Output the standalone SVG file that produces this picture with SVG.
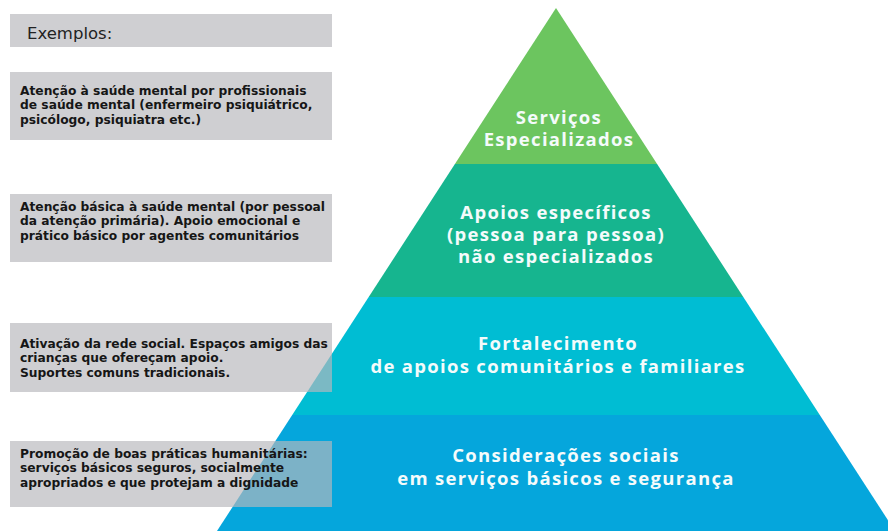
<svg xmlns="http://www.w3.org/2000/svg" width="888" height="531" viewBox="0 0 888 531">
  <style>
    .box { fill: rgb(184,184,188); fill-opacity: 0.67; }
    .bt { font-family: "DejaVu Sans", Verdana, sans-serif; font-weight: bold; font-size: 12.25px; fill: #161616; }
    .hd { font-family: "DejaVu Sans", Verdana, sans-serif; font-size: 16.5px; fill: #222; }
    .pt { font-family: "Open Sans", "DejaVu Sans", sans-serif; font-weight: bold; font-size: 18.5px; letter-spacing: 1.3px; fill: #f4fbfb; text-anchor: middle; }
  </style>
  <rect width="888" height="531" fill="#ffffff"/>
  <g id="pyramid">
    <g id="layer-1">
      <polygon points="556,8 657.1,164 454.9,164" fill="#6cc55f"/>
      <text class="pt" x="559" y="124">Serviços</text>
      <text class="pt" x="559" y="145.5">Especializados</text>
    </g>
    <g id="layer-2">
      <polygon points="454.9,164 657.1,164 743.3,297 368.7,297" fill="#16b58f"/>
      <text class="pt" x="556" y="218.5">Apoios específicos</text>
      <text class="pt" x="556" y="240.5">(pessoa para pessoa)</text>
      <text class="pt" x="556" y="263">não especializados</text>
    </g>
    <g id="layer-3">
      <polygon points="368.7,297 743.3,297 819.8,415 292.2,415" fill="#00bdd3"/>
      <text class="pt" x="558" y="349.5">Fortalecimento</text>
      <text class="pt" x="558" y="372.5">de apoios comunitários e familiares</text>
    </g>
    <g id="layer-4">
      <polygon points="292.2,415 819.8,415 895,531 217,531" fill="#05a6dc"/>
      <text class="pt" x="566" y="461.5">Considerações sociais</text>
      <text class="pt" x="566" y="485">em serviços básicos e segurança</text>
    </g>
  </g>
  <g id="connectors"/>
  <g id="box-exemplos">
    <rect class="box" x="10" y="14" width="322" height="33"/>
    <text class="hd" x="27" y="38.5">Exemplos:</text>
  </g>
  <g id="box-1">
    <rect class="box" x="10" y="72" width="322" height="68"/>
    <text class="bt" x="20" y="94.5">Atenção à saúde mental por profissionais</text>
    <text class="bt" x="20" y="109">de saúde mental (enfermeiro psiquiátrico,</text>
    <text class="bt" x="20" y="123.5">psicólogo, psiquiatra etc.)</text>
  </g>
  <g id="box-2">
    <rect class="box" x="10" y="194" width="322" height="68"/>
    <text class="bt" x="20" y="210.5">Atenção básica à saúde mental (por pessoal</text>
    <text class="bt" x="20" y="225">da atenção primária). Apoio emocional e</text>
    <text class="bt" x="20" y="239.5">prático básico por agentes comunitários</text>
  </g>
  <g id="box-3">
    <rect class="box" x="10" y="323" width="322" height="69"/>
    <text class="bt" x="20" y="347.5">Ativação da rede social. Espaços amigos das</text>
    <text class="bt" x="20" y="362">crianças que ofereçam apoio.</text>
    <text class="bt" x="20" y="376.5">Suportes comuns tradicionais.</text>
  </g>
  <g id="box-4">
    <rect class="box" x="10" y="441" width="322" height="66"/>
    <text class="bt" x="20" y="457.5">Promoção de boas práticas humanitárias:</text>
    <text class="bt" x="20" y="472">serviços básicos seguros, socialmente</text>
    <text class="bt" x="20" y="486.5">apropriados e que protejam a dignidade</text>
  </g>
</svg>
